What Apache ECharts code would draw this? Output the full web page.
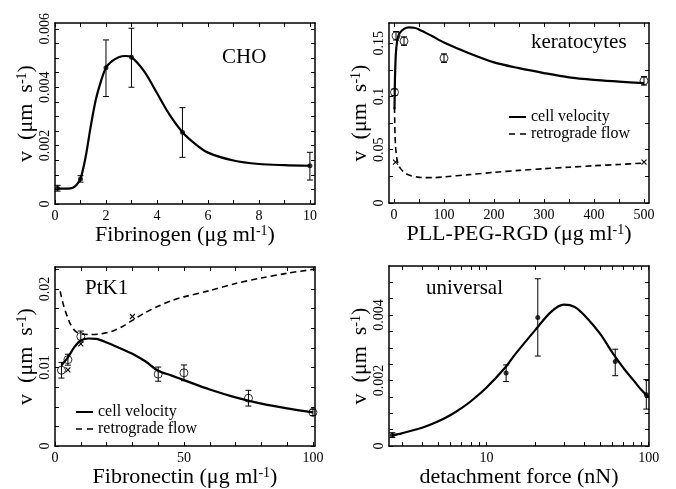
<!DOCTYPE html>
<html>
<head>
<meta charset="utf-8">
<script src="https://cdn.jsdelivr.net/npm/echarts@6/dist/echarts.min.js"></script>
<style>
  html, body { margin: 0; padding: 0; background: #fff; }
  #chart { width: 676px; height: 489px; }
</style>
</head>
<body>
<div id="chart"></div>
<script>
// --- CHO (fibrinogen) ---
const choX = [0.1, 1, 2, 3, 5, 10];
const choV = [0.00054, 0.00086, 0.00467, 0.00503, 0.00246, 0.00131];
const choLo = [0.00044, 0.00075, 0.00368, 0.0040, 0.0016, 0.00082];
const choHi = [0.00064, 0.00097, 0.00562, 0.00602, 0.0033, 0.00177];
const choFitX = [0.1, 0.5, 0.7, 0.85, 1.0, 1.2, 1.4, 1.6, 1.8, 2.0, 2.25, 2.5, 2.75, 3, 3.5, 4, 4.5, 5, 5.5, 6, 7, 8, 9, 10];
const choFitV = [0.00053, 0.00053, 0.00056, 0.00066, 0.00086, 0.0016, 0.00265, 0.00357, 0.0042, 0.00467, 0.0049, 0.00503, 0.00507, 0.00503, 0.00454, 0.0038, 0.00305, 0.00246, 0.00206, 0.00176, 0.00149, 0.00137, 0.00133, 0.00131];

// --- keratocytes (PLL-PEG-RGD) ---
const kerX = [1, 4, 20, 100, 500];
const kerV = [0.104, 0.157, 0.152, 0.136, 0.1147];
const kerErr = [0.003, 0.004, 0.004, 0.004, 0.004];
const kerFlowX = [3, 500];
const kerFlowV = [0.0384, 0.0384];
const kerVelFitX = [1, 1.5, 2, 3, 4, 6, 8, 12, 20, 30, 40, 50, 75, 100, 150, 200, 250, 300, 350, 400, 450, 500];
const kerVelFitV = [0.088, 0.105, 0.118, 0.133, 0.142, 0.151, 0.156, 0.16, 0.1635, 0.1648, 0.1645, 0.163, 0.157, 0.1506, 0.1406, 0.132, 0.1266, 0.122, 0.118, 0.1156, 0.114, 0.1125];
const kerFlowFitX = [1, 1.5, 2, 3, 5, 8, 12, 20, 30, 45, 60, 80, 100, 150, 200, 250, 300, 350, 400, 450, 500];
const kerFlowFitV = [0.09, 0.075, 0.065, 0.054, 0.044, 0.037, 0.033, 0.029, 0.0262, 0.0245, 0.0238, 0.0238, 0.0245, 0.0266, 0.0288, 0.0306, 0.0322, 0.0336, 0.035, 0.0362, 0.0375];

// --- PtK1 (fibronectin) ---
const ptkX = [2.5, 5, 10, 40, 50, 75, 100];
const ptkV = [0.00966, 0.0110, 0.01395, 0.00916, 0.00933, 0.0061, 0.00429];
const ptkErr = [0.001, 0.0007, 0.0007, 0.0009, 0.001, 0.001, 0.0004];
const ptkFlowX = [5, 10, 30];
const ptkFlowV = [0.0097, 0.0130, 0.0165];
const ptkVelFitX = [2.5, 5, 7.5, 10, 13, 16, 20, 25, 30, 35, 40, 45, 50, 60, 70, 80, 90, 100];
const ptkVelFitV = [0.0103, 0.0113, 0.0126, 0.01345, 0.0137, 0.01365, 0.0132, 0.0125, 0.01176, 0.0108, 0.0096, 0.009, 0.0084, 0.0072, 0.0062, 0.0054, 0.0048, 0.00429];
const ptkFlowFitX = [2, 3, 4, 5, 6, 8, 10, 14, 18, 22, 26, 30, 35, 40, 45, 50, 60, 70, 80, 90, 100];
const ptkFlowFitV = [0.0197, 0.0183, 0.0172, 0.0163, 0.0155, 0.0146, 0.0143, 0.0142, 0.0143, 0.0146, 0.0152, 0.016, 0.017, 0.0178, 0.0185, 0.019, 0.0198, 0.0207, 0.0214, 0.022, 0.0225];

// --- universal (detachment force) ---
const uniX = [2.62, 13.2, 20.7, 62.2, 96.7];
const uniV = [0.000334, 0.00223, 0.00393, 0.00258, 0.00157];
const uniLo = [0.00026, 0.00197, 0.00275, 0.00215, 0.00113];
const uniHi = [0.00041, 0.00248, 0.00511, 0.00296, 0.00203];
const uniFitX = [2.62, 3, 4, 5, 6, 7, 8, 10, 13, 15, 20, 25, 30, 35, 40, 50, 60, 70, 80, 90, 100];
const uniFitV = [0.00033, 0.00039, 0.00056, 0.00075, 0.00095, 0.00116, 0.00137, 0.00179, 0.00239, 0.0028, 0.00355, 0.0041, 0.00432, 0.00425, 0.004, 0.00344, 0.00284, 0.00238, 0.00203, 0.00172, 0.0015];

// --- tick labels and tick marks ---
const choXLabels = [0, 2, 4, 6, 8, 10];
const choXTicks = [0, 1, 2, 3, 4, 5, 6, 7, 8, 9, 10];
const choYLabels = [0, 0.002, 0.004, 0.006];
const choYTicks = [0, 0.0005, 0.001, 0.0015, 0.002, 0.0025, 0.003, 0.0035, 0.004, 0.0045, 0.005, 0.0055, 0.006];
const kerXLabels = [0, 100, 200, 300, 400, 500];
const kerXTicks = [0, 50, 100, 150, 200, 250, 300, 350, 400, 450, 500];
const kerYLabels = [0, 0.05, 0.1, 0.15];
const kerYTicks = [0, 0.025, 0.05, 0.075, 0.1, 0.125, 0.15];
const ptkXLabels = [0, 50, 100];
const ptkXTicks = [0, 10, 20, 30, 40, 50, 60, 70, 80, 90, 100];
const ptkYLabels = [0, 0.01, 0.02];
const ptkYTicks = [0, 0.0025, 0.005, 0.0075, 0.01, 0.0125, 0.015, 0.0175, 0.02, 0.0225];
const uniXLabels = [10, 100];
const uniXTicks = [3, 4, 5, 6, 7, 8, 9, 10, 20, 30, 40, 50, 60, 70, 80, 90, 100];
const uniYLabels = [0, 0.002, 0.004];
const uniYTicks = [0, 0.0005, 0.001, 0.0015, 0.002, 0.0025, 0.003, 0.0035, 0.004, 0.0045, 0.005];

const FONT = 'Liberation Serif';
const BLACK = '#000';

const chart = echarts.init(document.getElementById('chart'));

const pairs = (xs, ys) => xs.map((x, i) => [x, ys[i]]);
const fmt = v => String(parseFloat((+v).toFixed(5)));

const nameStyle = {
  fontFamily: FONT, fontSize: 22, color: BLACK,
  rich: { sup: { fontFamily: FONT, fontSize: 14, color: BLACK, verticalAlign: 'top' } }
};

function xAxisPair(gi, type, min, max, labels, ticks, name) {
  const base = {
    type: type, gridIndex: gi, min: min, max: max,
    axisLine: { show: true, onZero: false, lineStyle: { color: BLACK, width: 1.5 } },
    axisTick: { show: true, inside: true, length: 4, customValues: ticks, lineStyle: { color: BLACK, width: 1 } },
    splitLine: { show: false },
    minorTick: { show: false }
  };
  return [
    Object.assign({}, base, {
      position: 'bottom',
      axisLabel: { customValues: labels, fontFamily: FONT, fontSize: 14, color: BLACK, margin: 5, formatter: fmt },
      name: name, nameLocation: 'middle', nameGap: 19, nameTextStyle: nameStyle
    }),
    Object.assign({}, base, { position: 'top', axisLabel: { show: false } })
  ];
}

function yAxisPair(gi, min, max, labels, ticks) {
  const base = {
    type: 'value', gridIndex: gi, min: min, max: max,
    axisLine: { show: true, onZero: false, lineStyle: { color: BLACK, width: 1.5 } },
    axisTick: { show: true, inside: true, length: 4, customValues: ticks, lineStyle: { color: BLACK, width: 1 } },
    splitLine: { show: false }
  };
  return [
    Object.assign({}, base, {
      position: 'left',
      axisLabel: { customValues: labels, fontFamily: FONT, fontSize: 14, color: BLACK, rotate: 90, margin: 3, formatter: fmt },
      name: 'v  (μm  s{sup|-1})', nameLocation: 'middle', nameRotate: 90, nameGap: 14, nameTextStyle: nameStyle
    }),
    Object.assign({}, base, { position: 'right', axisLabel: { show: false } })
  ];
}

function fitLine(gi, name, xs, ys, dashed) {
  return {
    type: 'line', name: name, xAxisIndex: 2 * gi, yAxisIndex: 2 * gi,
    data: pairs(xs, ys), symbol: 'none', smooth: 0.3, clip: true,
    lineStyle: { color: BLACK, width: dashed ? 1.6 : 2.2, type: dashed ? [6, 4] : 'solid' },
    itemStyle: { color: BLACK }, z: 4
  };
}

function errorBars(gi, xs, lo, hi, cap) {
  return {
    type: 'custom', xAxisIndex: 2 * gi, yAxisIndex: 2 * gi,
    data: xs.map((x, i) => [x, lo[i], hi[i]]),
    renderItem: function (params, api) {
      const a = api.coord([api.value(0), api.value(1)]);
      const b = api.coord([api.value(0), api.value(2)]);
      const st = { stroke: BLACK, lineWidth: 1 };
      return {
        type: 'group', children: [
          { type: 'line', shape: { x1: a[0], y1: a[1], x2: b[0], y2: b[1] }, style: st },
          { type: 'line', shape: { x1: a[0] - cap, y1: a[1], x2: a[0] + cap, y2: a[1] }, style: st },
          { type: 'line', shape: { x1: b[0] - cap, y1: b[1], x2: b[0] + cap, y2: b[1] }, style: st }
        ]
      };
    },
    z: 3
  };
}

function crosses(gi, xs, ys) {
  return {
    type: 'custom', xAxisIndex: 2 * gi, yAxisIndex: 2 * gi,
    data: pairs(xs, ys),
    renderItem: function (params, api) {
      const p = api.coord([api.value(0), api.value(1)]);
      const s = 2.5;
      const st = { stroke: BLACK, lineWidth: 1.1 };
      return {
        type: 'group', children: [
          { type: 'line', shape: { x1: p[0] - s, y1: p[1] - s, x2: p[0] + s, y2: p[1] + s }, style: st },
          { type: 'line', shape: { x1: p[0] - s, y1: p[1] + s, x2: p[0] + s, y2: p[1] - s }, style: st }
        ]
      };
    },
    z: 5
  };
}

function dots(gi, xs, ys, open) {
  return {
    type: 'scatter', xAxisIndex: 2 * gi, yAxisIndex: 2 * gi,
    data: pairs(xs, ys), symbol: 'circle', symbolSize: open ? 8 : 5,
    itemStyle: open ? { color: 'rgba(0,0,0,0)', borderColor: BLACK, borderWidth: 1 } : { color: BLACK },
    z: 5
  };
}

const panelText = (text, left, top) => ({
  text: text, left: left, top: top,
  textStyle: { fontFamily: FONT, fontSize: 21, fontWeight: 'normal', color: BLACK }
});

const legendStyle = (left, top) => ({
  data: [
    { name: 'cell velocity', icon: 'path://M0,0H17V2H0Z' },
    { name: 'retrograde flow', icon: 'path://M0,0H6V1.6H0ZM11,0H17V1.6H11Z' }
  ],
  orient: 'vertical', left: left, top: top,
  itemWidth: 17, itemHeight: 2, itemGap: 1,
  selectedMode: false,
  textStyle: { fontFamily: FONT, fontSize: 16, color: BLACK }
});

const xAxes = [].concat(
  xAxisPair(0, 'value', 0, 10.2, choXLabels, choXTicks, 'Fibrinogen (μg ml{sup|-1})'),
  xAxisPair(1, 'value', -10, 510, kerXLabels, kerXTicks, 'PLL-PEG-RGD (μg ml{sup|-1})'),
  xAxisPair(2, 'value', 0, 100.8, ptkXLabels, ptkXTicks, 'Fibronectin (μg ml{sup|-1})'),
  xAxisPair(3, 'log', 2.5, 100.5, uniXLabels, uniXTicks, 'detachment force (nN)')
);
xAxes[6].logBase = 10;
xAxes[7].logBase = 10;

const yAxes = [].concat(
  yAxisPair(0, 0, 0.0062, choYLabels, choYTicks),
  yAxisPair(1, 0, 0.169, kerYLabels, kerYTicks),
  yAxisPair(2, 0, 0.0228, ptkYLabels, ptkYTicks),
  yAxisPair(3, 0, 0.0055, uniYLabels, uniYTicks)
);

const option = {
  animation: false,
  backgroundColor: '#fff',
  textStyle: { fontFamily: FONT },
  title: [
    panelText('CHO', 217, 42),
    panelText('keratocytes', 526, 27),
    panelText('PtK1', 80, 273),
    panelText('universal', 421, 273)
  ],
  legend: [legendStyle(504, 104), legendStyle(71, 399)],
  grid: [
    { left: 55, top: 23, width: 260, height: 181 },
    { left: 389, top: 23, width: 260, height: 180 },
    { left: 55, top: 267, width: 260, height: 180 },
    { left: 389, top: 266, width: 260, height: 181 }
  ],
  xAxis: xAxes,
  yAxis: yAxes,
  series: [
    // CHO
    fitLine(0, 'CHO fit', choFitX, choFitV, false),
    errorBars(0, choX, choLo, choHi, 3),
    dots(0, choX, choV, false),
    // keratocytes
    fitLine(1, 'cell velocity', kerVelFitX, kerVelFitV, false),
    fitLine(1, 'retrograde flow', kerFlowFitX, kerFlowFitV, true),
    errorBars(1, kerX, kerX.map((x, i) => kerV[i] - kerErr[i]), kerX.map((x, i) => kerV[i] + kerErr[i]), 3),
    dots(1, kerX, kerV, true),
    crosses(1, kerFlowX, kerFlowV),
    // PtK1
    fitLine(2, 'cell velocity', ptkVelFitX, ptkVelFitV, false),
    fitLine(2, 'retrograde flow', ptkFlowFitX, ptkFlowFitV, true),
    errorBars(2, ptkX, ptkX.map((x, i) => ptkV[i] - ptkErr[i]), ptkX.map((x, i) => ptkV[i] + ptkErr[i]), 3),
    dots(2, ptkX, ptkV, true),
    crosses(2, ptkFlowX, ptkFlowV),
    // universal
    fitLine(3, 'universal fit', uniFitX, uniFitV, false),
    errorBars(3, uniX, uniLo, uniHi, 3),
    dots(3, uniX, uniV, false)
  ]
};

chart.setOption(option);
</script>
</body>
</html>
